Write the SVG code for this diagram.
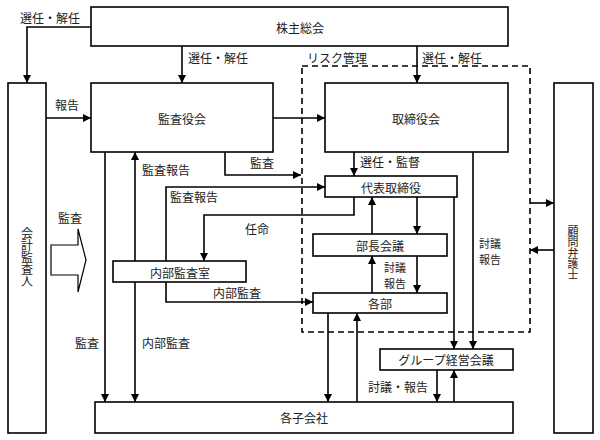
<svg xmlns="http://www.w3.org/2000/svg" width="600" height="440" viewBox="0 0 600 440">
<defs>
<marker id="ah" viewBox="0 0 10 10" refX="10" refY="5" markerWidth="9" markerHeight="8" markerUnits="userSpaceOnUse" orient="auto">
<path d="M0,0 L10,5 L0,10 z" fill="#000"/>
</marker>
</defs>
<style>
.box{fill:#fff;stroke:#000;stroke-width:1.6}
.t{font-family:"Noto Sans CJK JP","Noto Sans CJK SC",sans-serif;font-size:12px;fill:#222;text-anchor:middle;dominant-baseline:central}
.l{font-family:"Noto Sans CJK JP","Noto Sans CJK SC",sans-serif;font-size:12px;fill:#222;dominant-baseline:central}
.v{font-family:"Noto Sans CJK JP","Noto Sans CJK SC",sans-serif;font-size:12px;fill:#222;text-anchor:middle;writing-mode:vertical-rl}
.s{font-size:11px}
.c{fill:none;stroke:#000;stroke-width:1.6}
.a{marker-end:url(#ah)}
.d{fill:none;stroke:#000;stroke-width:1.6;stroke-dasharray:6,4}
</style>
<rect width="600" height="440" fill="#fff"/>
<g id="connectors">
<rect class="d" x="302" y="66" width="228" height="266"/>
<path class="c a" d="M91,27 H27 V83"/>
<path class="c a" d="M182,46 V83"/>
<path class="c a" d="M417,46 V83"/>
<path class="c a" d="M46,118 H91"/>
<path class="c a" d="M273,118 H325"/>
<path class="c a" d="M105,152 V402"/>
<path class="c a" d="M135,261 V152"/>
<path class="c a" d="M135,282 V402"/>
<path class="c a" d="M225,152 V175 H301"/>
<path class="c a" d="M166,261 V187 H325"/>
<path class="c a" d="M354,152 V176"/>
<path class="c a" d="M354,197 V215 H204 V261"/>
<path class="c a" d="M166,282 V302 H313"/>
<path class="c a" d="M417,197 V234"/>
<path class="c a" d="M372,234 V197"/>
<path class="c a" d="M417,256 V293"/>
<path class="c a" d="M372,293 V256"/>
<path class="c a" d="M454,197 V349"/>
<path class="c a" d="M473,152 V349"/>
<path class="c a" d="M328,313 V402"/>
<path class="c a" d="M357,402 V313"/>
<path class="c a" d="M437,370 V402"/>
<path class="c a" d="M454,402 V370"/>
<path class="c a" d="M530,203 H554"/>
<path class="c a" d="M554,250 H530"/>
<polygon points="51,245 78,245 78,229 86,260 78,292 78,275 51,275" fill="#fff" stroke="#000" stroke-width="1.2"/>
<text class="l" x="20" y="17">選任・解任</text>
<text class="l" x="188" y="57">選任・解任</text>
<text class="l" x="307" y="57">リスク管理</text>
<text class="l" x="422" y="57">選任・解任</text>
<text class="l" x="55" y="104">報告</text>
<text class="l" x="58" y="217">監査</text>
<text class="l" x="142" y="169">監査報告</text>
<text class="l" x="250" y="162">監査</text>
<text class="l" x="360" y="161">選任・監督</text>
<text class="l" x="170" y="196">監査報告</text>
<text class="l" x="245" y="228">任命</text>
<text class="l" x="213" y="292">内部監査</text>
<text class="l" x="75" y="342">監査</text>
<text class="l" x="142" y="342">内部監査</text>
<text class="t s" x="395" y="267">討議</text>
<text class="t s" x="395" y="283">報告</text>
<text class="t s" x="490" y="243">討議</text>
<text class="t s" x="490" y="259">報告</text>
<text class="l" x="368" y="386">討議・報告</text>
</g>
<g id="kabunushi"><rect class="box" x="91" y="7" width="417" height="39"/><text class="t" x="300" y="27">株主総会</text></g>
<g id="kansayakukai"><rect class="box" x="91" y="83" width="182" height="69"/><text class="t" x="182" y="118">監査役会</text></g>
<g id="torishimariyakukai"><rect class="box" x="325" y="83" width="183" height="69"/><text class="t" x="416" y="118">取締役会</text></g>
<g id="kaikei"><rect class="box" x="8" y="83" width="38" height="350"/>
<text class="v" x="27" y="257">会計監査人</text></g>
<g id="komon"><rect class="box" x="554" y="83" width="39" height="350"/>
<text class="v" x="573" y="253" style="font-size:11px">顧問弁護士</text></g>
<g id="daihyo"><rect class="box" x="325" y="176" width="132" height="21"/><text class="t" x="391" y="187">代表取締役</text></g>
<g id="naibu"><rect class="box" x="113" y="261" width="133" height="21"/><text class="t" x="180" y="272">内部監査室</text></g>
<g id="buchokaigi"><rect class="box" x="313" y="234" width="134" height="22"/><text class="t" x="380" y="245">部長会議</text></g>
<g id="kakubu"><rect class="box" x="313" y="293" width="134" height="20"/><text class="t" x="380" y="303">各部</text></g>
<g id="group"><rect class="box" x="380" y="349" width="133" height="21"/><text class="t" x="446" y="359">グループ経営会議</text></g>
<g id="kogaisha"><rect class="box" x="95" y="402" width="418" height="31"/><text class="t" x="304" y="417">各子会社</text></g>
</svg>
